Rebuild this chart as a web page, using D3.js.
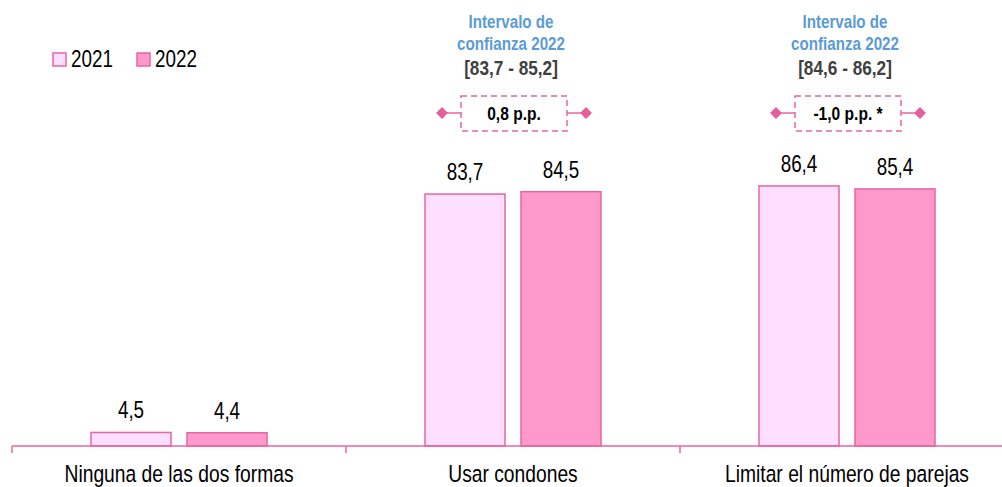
<!DOCTYPE html>
<html>
<head>
<meta charset="utf-8">
<script src="https://cdn.jsdelivr.net/npm/d3@7"></script>
<style>
  body { margin: 0; background: #fff; }
  text { font-family: "Liberation Sans", Arial, sans-serif; }
</style>
</head>
<body>
<script>
// Data
let categories = ["Ninguna de las dos formas", "Usar condones", "Limitar el número de parejas"];
let years = ["2021", "2022"];
let values2021 = [4.5, 83.7, 86.4];
let values2022 = [4.4, 84.5, 85.4];
let ciLabels = [null, "[83,7 - 85,2]", "[84,6 - 86,2]"];
let diffLabels = [null, "0,8 p.p.", "-1,0 p.p. *"];

let svgWidth = 1002;
let svgHeight = 487;
let baseline = 446;
let narrowX = 0.82; // squeeze text like Arial Narrow

let colors = { "2021": "#FFDFFF", "2022": "#FF99CC" };
let strokeColor = "#E8659F";

let svg = d3.select("body")
    .append("svg")
    .attr("width", svgWidth)
    .attr("height", svgHeight);

// narrow text helper
function addText(parent, x, y, str, size, opts) {
    opts = opts || {};
    return parent.append("text")
        .attr("transform", `translate(${x}, ${y}) scale(${narrowX}, 1)`)
        .attr("text-anchor", opts.anchor || "middle")
        .attr("font-size", size + "px")
        .attr("font-weight", opts.bold ? "bold" : null)
        .attr("fill", opts.fill || "#000")
        .text(str);
}

// Scales
let x0 = d3.scaleBand()
    .domain(categories)
    .range([12, 12 + 334 * 3]);

let x1 = d3.scaleBand()
    .domain(years)
    .range([0, 176])
    .paddingInner(1 / 6);

let y = d3.scaleLinear()
    .domain([0, 100])
    .range([baseline, baseline - 301]);

let rows = categories.map((c, i) => ({
    cat: c,
    vals: [
        { year: "2021", v: values2021[i] },
        { year: "2022", v: values2022[i] }
    ]
}));

let fmt = v => d3.format(".1f")(v).replace(".", ",");

// Bars
let groups = svg.selectAll("g.cat")
    .data(rows)
    .enter()
    .append("g")
    .attr("class", "cat")
    .attr("transform", d => `translate(${x0(d.cat) + x0.bandwidth() / 2 - 88}, 0)`);

groups.selectAll("rect")
    .data(d => d.vals)
    .enter()
    .append("rect")
    .attr("x", d => x1(d.year))
    .attr("y", d => y(d.v))
    .attr("width", x1.bandwidth())
    .attr("height", d => baseline - y(d.v))
    .attr("fill", d => colors[d.year])
    .attr("stroke", strokeColor)
    .attr("stroke-width", 1.5);

groups.each(function(d) {
    let g = d3.select(this);
    d.vals.forEach(p => {
        addText(g, x1(p.year) + x1.bandwidth() / 2, y(p.v) - 14, fmt(p.v), 23);
    });
});

// Axis
let xAxis = d3.axisBottom(x0).tickSize(0).tickPadding(19);
let axisG = svg.append("g")
    .attr("transform", `translate(0, ${baseline})`)
    .call(xAxis);
axisG.select(".domain").remove();
axisG.append("line")
    .attr("x1", 12).attr("x2", svgWidth)
    .attr("y1", 0).attr("y2", 0)
    .attr("stroke", strokeColor)
    .attr("stroke-width", 1.5);
axisG.selectAll(".sep")
    .data(categories)
    .enter()
    .append("line")
    .attr("x1", d => x0(d)).attr("x2", d => x0(d))
    .attr("y1", 0).attr("y2", 7)
    .attr("stroke", strokeColor)
    .attr("stroke-width", 1.5);
axisG.selectAll(".tick text")
    .attr("font-size", "23.5px")
    .attr("fill", "#000")
    .attr("font-family", null)
    .attr("transform", `scale(${narrowX}, 1)`);

// Legend
let legend = svg.append("g").attr("transform", "translate(53, 53)");
years.forEach((yr, i) => {
    let g = legend.append("g").attr("transform", `translate(${i * 84}, 0)`);
    g.append("rect")
        .attr("width", 13).attr("height", 13)
        .attr("fill", colors[yr])
        .attr("stroke", strokeColor)
        .attr("stroke-width", 1.5);
    addText(g, 18, 14, yr, 23, { anchor: "start" });
});

// Confidence interval annotations
rows.forEach((d, i) => {
    if (!ciLabels[i]) return;
    let cx = x0(d.cat) + x0.bandwidth() / 2;
    let a = svg.append("g").attr("transform", `translate(${cx}, 0)`);
    addText(a, -2, 28, "Intervalo de", 18.5, { bold: true, fill: "#5B9BD5" });
    addText(a, -2, 50, "confianza 2022", 18.5, { bold: true, fill: "#5B9BD5" });
    addText(a, -2, 75, ciLabels[i], 21, { bold: true, fill: "#404040" });

    // dashed box with diamond whiskers
    a.append("rect")
        .attr("x", -52).attr("y", 96)
        .attr("width", 106).attr("height", 35)
        .attr("fill", "#fff")
        .attr("stroke", strokeColor)
        .attr("stroke-width", 1.5)
        .attr("stroke-dasharray", "6,4");
    a.append("line").attr("x1", -70).attr("x2", -52)
        .attr("y1", 113).attr("y2", 113)
        .attr("stroke", strokeColor).attr("stroke-width", 1.5);
    a.append("line").attr("x1", 54).attr("x2", 72)
        .attr("y1", 113).attr("y2", 113)
        .attr("stroke", strokeColor).attr("stroke-width", 1.5);
    [-71, 73].forEach(dx => {
        a.append("path")
            .attr("d", d3.symbol().type(d3.symbolDiamond2).size(90))
            .attr("transform", `translate(${dx}, 113)`)
            .attr("fill", "#E5609B");
    });
    addText(a, 1, 120, diffLabels[i], 19, { bold: true });
});
</script>
</body>
</html>
